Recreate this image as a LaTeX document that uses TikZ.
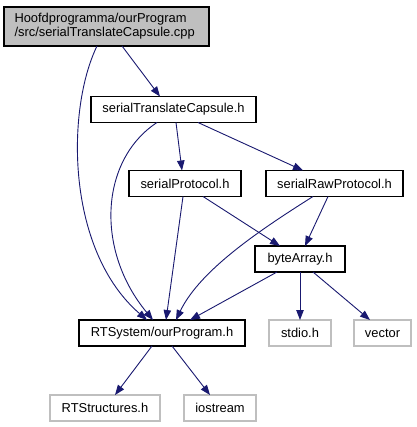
\documentclass[tikz,border=0pt]{standalone}
\usepackage{fontspec}
\setmainfont{Liberation Sans}
\usetikzlibrary{calc,arrows.meta}
\definecolor{edgeblue}{HTML}{191970}
\definecolor{grayfill}{HTML}{BFBFBF}
\definecolor{grayline}{HTML}{BFBFBF}
\begin{document}
\begin{tikzpicture}[x=1pt,y=-1pt,
  every node/.style={font=\fontsize{12.9}{14}\selectfont, inner sep=0pt, outer sep=0pt},
  filebox/.style={draw=black, line width=1.1pt, fill=white, minimum height=26pt},
  extbox/.style={draw=grayline, line width=1.1pt, fill=white, minimum height=26pt},
  dep/.style={draw=edgeblue, line width=0.9pt, -{Triangle[length=10pt,width=7.5pt]}}
]
\useasboundingbox (0,0) rectangle (416,427);
\fill[white] (0,0) rectangle (416,427);

\node[draw=black, line width=1.1pt, fill=grayfill, minimum width=205pt, minimum height=39pt] (cpp) at (106.5,26.5) {};
\node[anchor=west, align=left] (cpptext) at (14.5,26) {Hoofdprogramma/ourProgram\\/src/serialTranslateCapsule.cpp};

\node[filebox, minimum width=165pt] (stc) at (173.5,109.5) {serialTranslateCapsule.h};
\node[filebox, minimum width=112pt] (sp) at (185,183.5) {serialProtocol.h};
\node[filebox, minimum width=137pt] (srp) at (334.5,183.5) {serialRawProtocol.h};
\node[filebox, minimum width=90pt] (ba) at (300,259) {byteArray.h};
\node[filebox, minimum width=166pt] (rts) at (162,333) {RTSystem/ourProgram.h};
\node[extbox, minimum width=62pt] (stdio) at (300,333) {stdio.h};
\node[extbox, minimum width=57pt] (vec) at (382.5,333) {vector};
\node[extbox, minimum width=110pt] (rtstr) at (105,408) {RTStructures.h};
\node[extbox, minimum width=72pt] (ios) at (220,408) {iostream};

% edges
\draw[dep] ($(cpp.south)+(15.5,0)$) -- ($(stc.north)+(-13.5,0)$);
\draw[dep] ($(cpp.south)+(-9.5,0)$) .. controls (66,110) and (66,250) .. ($(rts.north)+(-15,0)$);
\draw[dep] ($(stc.south)+(-16.5,0)$) .. controls (100,160) and (95,250) .. ($(rts.north)+(-9,0)$);
\draw[dep] ($(stc.south)+(2.5,0)$) -- ($(sp.north)+(-3,0)$);
\draw[dep] ($(stc.south)+(24.5,0)$) -- ($(srp.north)+(-31.5,0)$);
\draw[dep] ($(sp.south)+(-2,0)$) -- ($(rts.north)+(4,0)$);
\draw[dep] ($(sp.south)+(18,0)$) -- ($(ba.north)+(-20,0)$);
\draw[dep] ($(srp.south)+(-21.5,0)$) .. controls (260,230) and (200,270) .. ($(rts.north)+(14,0)$);
\draw[dep] ($(srp.south)+(-6.5,0)$) -- ($(ba.north)+(5,0)$);
\draw[dep] ($(ba.south)+(-23,0)$) -- ($(rts.north)+(28,0)$);
\draw[dep] (ba.south) -- (stdio.north);
\draw[dep] ($(ba.south)+(13,0)$) -- ($(vec.north)+(-12.5,0)$);
\draw[dep] ($(rts.south)+(-10,0)$) -- ($(rtstr.north)+(10,0)$);
\draw[dep] ($(rts.south)+(10,0)$) -- ($(ios.north)+(-10,0)$);
\end{tikzpicture}
\end{document}
